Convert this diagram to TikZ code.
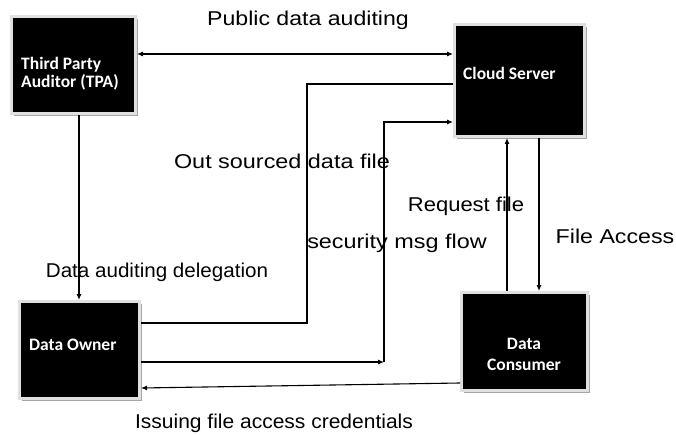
\documentclass[tikz,border=0pt]{standalone}
\usepackage{fontspec}
\setmainfont{Liberation Sans}
\newfontfamily\boxfont{Carlito}
\usepackage{tikz}
\usetikzlibrary{arrows.meta,positioning,calc,shadows}

\newcommand{\wider}[2]{\scalebox{#1}[1]{#2}}

\begin{document}
\begin{tikzpicture}[x=1pt,y=-1pt,
  box/.style={fill=black, draw=black!12, line width=3pt, inner sep=0pt,
    drop shadow={shadow xshift=2.5pt, shadow yshift=-2.5pt, fill=black!35, opacity=1}},
  boxtext/.style={text=white, inner sep=0pt, font=\boxfont\bfseries\fontsize{17.5}{17.5}\selectfont},
  lbl/.style={inner sep=0pt, font=\fontsize{20}{24}\selectfont},
  flow/.style={line width=1.1pt},
  arr/.style={flow, -{Latex[length=6pt,width=5pt]}},
  both/.style={flow, {Latex[length=6pt,width=5pt]}-{Latex[length=6pt,width=5pt]}}]
\useasboundingbox (0,0) rectangle (676,435);

% boxes
\node[box, minimum width=124pt, minimum height=97pt] (tpa) at (73.5,65) {};
\node[box, minimum width=130pt, minimum height=112pt] (cloud) at (519.5,80.5) {};
\node[box, minimum width=120pt, minimum height=97pt] (owner) at (79.5,350) {};
\node[box, minimum width=126pt, minimum height=98pt] (consumer) at (524.5,341.5) {};

% box texts
\node[boxtext, anchor=west, align=left] (tpatxt) at (21,73.5) {Third Party\\Auditor (TPA)};
\node[boxtext, anchor=west] (cloudtxt) at (463,73) {Cloud Server};
\node[boxtext, anchor=west] (ownertxt) at (29,345) {Data Owner};
\node[boxtext, align=center] (consumertxt) at (524,354.5) {Data\\[4pt]Consumer};

% bends
\coordinate (bend1) at (307,84);
\coordinate (bend2) at (384,362);

% connectors
\draw[both] (tpa.east |- 0,54) -- (cloud.west |- 0,54);
\draw[flow] (owner.east |- 0,323) -| (bend1) -- (cloud.west |- bend1);
\draw[arr] (owner.east |- bend2) -- (bend2);
\draw[arr] (bend2) |- (cloud.west |- 0,122);
\draw[arr] (consumer.north -| 507,0) -- (cloud.south -| 507,0);
\draw[arr] (cloud.south -| 539,0) -- (consumer.north -| 539,0);
\draw[arr] (consumer.west |- 0,383) -- (owner.east |- 0,388);
\draw[arr] (tpa.south -| 79,0) -- (owner.north -| 79,0);

% labels
\node[lbl] (pubaud) at (308,20) {\wider{1.155}{Public data auditing}};
\node[lbl] (outsrc) at (282,161) {\wider{1.17}{Out sourced data file}};
\node[lbl] (reqfile) at (466,206) {\wider{1.1}{Request file}};
\node[lbl] (secmsg) at (397,243) {\wider{1.17}{security msg flow}};
\node[lbl] (facc) at (615,236) {\wider{1.16}{File Access}};
\node[lbl] (deleg) at (157,272) {\wider{1.03}{Data auditing delegation}};
\node[lbl] (issue) at (274,423) {\wider{1.05}{Issuing file access credentials}};
\end{tikzpicture}
\end{document}
